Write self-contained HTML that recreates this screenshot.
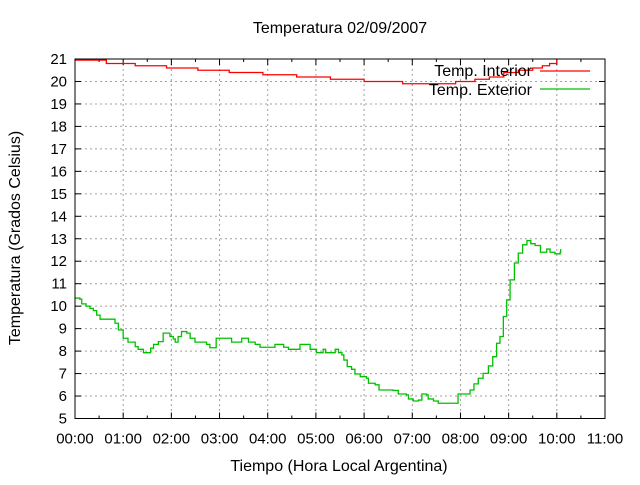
<!DOCTYPE html>
<html><head><meta charset="utf-8"><style>
body{margin:0;background:#fff}
svg text{font-family:"Liberation Sans",sans-serif;font-size:16px;fill:#000}
svg text.tk{font-size:15px}
</style></head><body>
<svg id="c" width="640" height="480" xmlns="http://www.w3.org/2000/svg">
<rect width="640" height="480" fill="#fff"/>
<text x="340" y="33" text-anchor="middle">Temperatura 02/09/2007</text>
<text x="339" y="471" text-anchor="middle">Tiempo (Hora Local Argentina)</text>
<text transform="translate(20,238) rotate(-90)" text-anchor="middle">Temperatura (Grados Celsius)</text>
<g id="grid"></g>
<g id="ticks"></g>
<g id="series"></g>
<rect x="75" y="59" width="530" height="359.5" fill="none" stroke="#000" stroke-width="1"/>
<g>
<text x="532" y="76" text-anchor="end">Temp. Interior</text>
<line x1="540" y1="71" x2="590" y2="71" stroke="#f00" stroke-width="1.3"/>
<text x="532" y="95" text-anchor="end">Temp. Exterior</text>
<line x1="540" y1="89" x2="590" y2="89" stroke="#00c000" stroke-width="1.3"/>
</g>
</svg>
<script>
const xTickLabels=["00:00","01:00","02:00","03:00","04:00","05:00","06:00","07:00","08:00","09:00","10:00","11:00"];
const yTicks=[5,6,7,8,9,10,11,12,13,14,15,16,17,18,19,20,21];
const extHours=[0,0.1,0.14,0.23,0.31,0.38,0.45,0.52,0.76,0.83,0.9,1.0,1.1,1.25,1.31,1.42,1.54,1.57,1.63,1.73,1.83,1.9,1.97,2.04,2.08,2.14,2.21,2.32,2.39,2.49,2.66,2.73,2.8,2.93,3.22,3.25,3.46,3.56,3.6,3.74,3.84,4.12,4.15,4.29,4.33,4.43,4.57,4.67,4.81,4.88,4.98,5.01,5.12,5.15,5.2,5.36,5.4,5.47,5.54,5.58,5.65,5.74,5.81,5.92,6.05,6.09,6.23,6.31,6.6,6.71,6.88,6.92,7.02,7.13,7.2,7.3,7.33,7.44,7.54,7.85,7.95,8.09,8.2,8.28,8.37,8.47,8.58,8.67,8.75,8.82,8.89,8.96,9.03,9.12,9.2,9.29,9.38,9.46,9.55,9.66,9.79,9.86,9.96,10.07,10.08];
const extTemps=[10.36,10.31,10.1,10.0,9.9,9.8,9.6,9.42,9.42,9.24,8.94,8.57,8.4,8.2,8.08,7.93,7.93,8.13,8.3,8.42,8.8,8.8,8.65,8.54,8.4,8.65,8.87,8.8,8.57,8.4,8.4,8.3,8.15,8.57,8.57,8.4,8.57,8.57,8.4,8.3,8.17,8.17,8.3,8.3,8.17,8.08,8.08,8.3,8.3,8.08,8.08,7.93,7.93,8.08,7.93,7.93,8.08,7.93,7.83,7.6,7.31,7.19,6.98,6.86,6.79,6.57,6.5,6.27,6.25,6.09,6.05,5.87,5.78,5.82,6.09,6.05,5.87,5.78,5.68,5.68,6.09,6.09,6.27,6.54,6.79,7.01,7.34,7.75,8.35,8.65,9.54,10.28,11.17,11.92,12.36,12.73,12.92,12.78,12.7,12.4,12.54,12.4,12.33,12.4,12.54];
const intHours=[0,0.65,1.25,1.9,2.55,3.2,3.9,4.6,5.3,6.0,6.8,7.9,8.3,8.6,8.9,9.2,9.5,9.7,9.85,10.0];
const intTemps=[20.95,20.8,20.7,20.6,20.5,20.4,20.3,20.2,20.1,20.0,19.9,20.0,20.1,20.2,20.4,20.5,20.6,20.7,20.8,20.95];
const NS="http://www.w3.org/2000/svg";
const X0=75,X1=605,Y0=418.5,Y1=59,XMAX=11,YMIN=5,YMAX=21;
const sx=h=>X0+(X1-X0)*h/XMAX;
const sy=v=>Y0-(Y0-Y1)*(v-YMIN)/(YMAX-YMIN);
function mk(tag,attrs,parent){const e=document.createElementNS(NS,tag);for(const k in attrs)e.setAttribute(k,attrs[k]);parent.appendChild(e);return e;}
const grid=document.getElementById('grid'),ticks=document.getElementById('ticks'),series=document.getElementById('series');
yTicks.forEach(v=>{
  const y=sy(v);
  if(v>YMIN&&v<YMAX){const g=mk('line',{x1:X0,x2:X1,y1:y,y2:y,stroke:'#a0a0a0','stroke-dasharray':'2,3'},grid);
  
  }
  const t=mk('line',{x1:X0,x2:X0+6,y1:y,y2:y,stroke:'#000'},ticks);
  
  
  const t2=mk('line',{x1:X1-6,x2:X1,y1:y,y2:y,stroke:'#000'},ticks);
  
  
  const l=mk('text',{x:X0-8,y:y+5,'text-anchor':'end','class':'tk'},ticks);l.textContent=v;
  
  
});
xTickLabels.forEach((lab,i)=>{
  const x=sx(i);
  if(i>0&&i<XMAX){const g=mk('line',{x1:x,x2:x,y1:Y1,y2:Y0,stroke:'#a0a0a0','stroke-dasharray':'2,3'},grid);
  
  }
  const t=mk('line',{x1:x,x2:x,y1:Y0,y2:Y0-6,stroke:'#000'},ticks);
  
  
  const t2=mk('line',{x1:x,x2:x,y1:Y1,y2:Y1+6,stroke:'#000'},ticks);
  
  
  if(i<XMAX){const xm=sx(i+0.5);
    const m=mk('line',{x1:xm,x2:xm,y1:Y0,y2:Y0-3,stroke:'#000'},ticks);
    
    
    const m2=mk('line',{x1:xm,x2:xm,y1:Y1,y2:Y1+3,stroke:'#000'},ticks);
    
    }
  const l=mk('text',{x:x,y:Y0+25,'text-anchor':'middle','class':'tk'},ticks);l.textContent=lab;
  
  
});
function stepPts(hs,vs){let p=[];for(let i=0;i<hs.length;i++){if(i>0)p.push(sx(hs[i])+','+sy(vs[i-1]));p.push(sx(hs[i])+','+sy(vs[i]));}return p.join(' ');}
const ext=mk('polyline',{points:stepPts(extHours,extTemps),fill:'none',stroke:'#00c000','stroke-width':1.3},series);


const inn=mk('polyline',{points:stepPts(intHours,intTemps),fill:'none',stroke:'#f00','stroke-width':1.3},series);


</script>
</body></html>
